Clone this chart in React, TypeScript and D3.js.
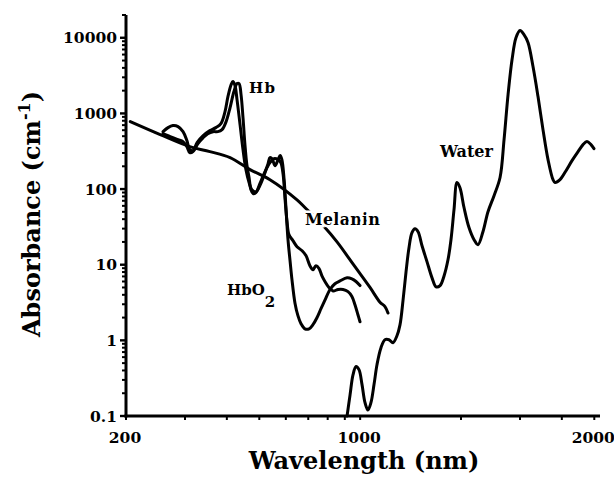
import React from "react";
import * as d3 from "d3";

type Pt = [number, number];

// wavelength (nm), absorbance (cm^-1)
const melanin: Pt[] = [
  [206, 779], [253, 525], [310, 364], [356, 313], [409, 260], [469, 181], [538, 133],
  [648, 72], [684, 57], [785, 31], [853, 20], [965, 9.4], [1070, 5.0], [1146, 3.2],
  [1186, 2.8], [1211, 2.3],
];

const hbo2: Pt[] = [
  [258, 574], [267, 649], [276, 690], [286, 670], [296, 574], [304, 437], [310, 332],
  [317, 322], [326, 411], [340, 508], [356, 592], [371, 649], [384, 733], [395, 1057],
  [403, 1668], [412, 2404], [417, 2634], [423, 2333], [429, 1523], [438, 711], [447, 332],
  [456, 181], [466, 122], [475, 98], [489, 92], [502, 111], [516, 150], [531, 217],
  [538, 260], [546, 252], [557, 204], [569, 245], [577, 277], [584, 245], [593, 133],
  [601, 53], [609, 21.4], [618, 11.0], [626, 6.3], [639, 3.1], [652, 2.12], [666, 1.66],
  [684, 1.42], [704, 1.42], [723, 1.61], [743, 1.99], [764, 2.62], [785, 3.4], [813, 4.7],
  [841, 5.6], [871, 6.1], [914, 6.7], [945, 6.5], [972, 6.0], [999, 5.3],
];

const hb: Pt[] = [
  [258, 541], [267, 508], [276, 478], [286, 450], [296, 424], [304, 364], [310, 303],
  [317, 313], [328, 399], [340, 478], [351, 541], [364, 574], [376, 574], [387, 611],
  [398, 779], [409, 1194], [420, 1946], [429, 2478], [435, 2478], [441, 1774], [447, 879],
  [453, 387], [459, 210], [466, 142], [472, 98], [479, 87], [489, 90], [502, 118],
  [520, 170], [538, 223], [553, 252], [569, 245], [580, 223], [589, 155], [597, 72],
  [605, 37], [613, 25], [630, 20.8], [648, 17.3], [671, 15.3], [689, 13.2], [708, 9.7],
  [723, 8.6], [738, 9.7], [754, 8.9], [769, 7.1], [785, 6.0], [807, 5.0], [830, 4.5],
  [859, 4.7], [889, 4.7], [920, 4.4], [945, 3.8], [965, 2.96], [985, 2.18], [999, 1.76],
];

const water: Pt[] = [
  [914, 0.1], [933, 0.19], [952, 0.35], [972, 0.45], [992, 0.41], [1013, 0.26],
  [1034, 0.15], [1055, 0.12], [1077, 0.15], [1100, 0.26], [1123, 0.48], [1154, 0.8],
  [1186, 1.02], [1219, 1.02], [1253, 0.93], [1288, 1.15], [1315, 1.6], [1343, 3.4],
  [1371, 8.1], [1399, 16.8], [1428, 26.5], [1458, 29.9], [1489, 27.3], [1530, 17.8],
  [1583, 11.0], [1639, 6.7], [1685, 5.1], [1732, 5.3], [1780, 7.1], [1829, 11.6],
  [1867, 21.4], [1906, 53], [1946, 122], [1986, 104], [2042, 57], [2113, 31],
  [2188, 21.4], [2248, 18.4], [2326, 27.3], [2408, 50.2], [2510, 81.8], [2616, 142],
  [2689, 450], [2764, 1774], [2841, 5150], [2920, 10060], [3001, 12450], [3084, 11020],
  [3170, 8650], [3281, 4160], [3396, 1668], [3514, 611], [3638, 245], [3765, 133],
  [3817, 122], [3950, 133], [4117, 175], [4290, 238], [4472, 313], [4627, 387],
  [4754, 424], [4887, 387], [4989, 342],
];

const xTickValues = [200, 300, 400, 500, 600, 700, 800, 900, 1000, 2000, 3000, 4000, 5000];
const xTickLabelValues = [200, 1000, 5000];
const xTickLabels = ["200", "1000", "2000"];
const yTickLabelValues = [0.1, 1, 10, 100, 1000, 10000];
const yTickLabels = ["0.1", "1", "10", "100", "1000", "10000"];

const FONT = "'DejaVu Serif', serif";

export default function App() {
  const x = d3.scaleLog().domain([200, 5200]).range([126, 600]);
  const y = d3.scaleLog().domain([0.1, 20000]).range([416, 15]);

  const line = d3
    .line<Pt>()
    .x((d) => x(d[0]))
    .y((d) => y(d[1]))
    .curve(d3.curveCatmullRom.alpha(0.5));

  const yMinor: number[] = [];
  for (let e = -1; e <= 4; e++) {
    for (let k = 2; k <= 9; k++) {
      const v = k * Math.pow(10, e);
      if (v <= 20000) yMinor.push(v);
    }
  }

  const curveStyle = {
    fill: "none",
    stroke: "#000",
    strokeWidth: 3,
    strokeLinejoin: "round" as const,
    strokeLinecap: "round" as const,
  };

  const labelStyle = {
    fontFamily: FONT,
    fontWeight: 700,
    fill: "#000",
  };

  return (
    <svg
      width={614}
      height={477}
      style={{ position: "absolute", left: 0, top: 0, background: "#fff" }}
    >
      {/* curves */}
      <path d={line(melanin) || ""} style={curveStyle} />
      <path d={line(hbo2) || ""} style={curveStyle} />
      <path d={line(hb) || ""} style={curveStyle} />
      <path d={line(water) || ""} style={curveStyle} />

      {/* axes */}
      <line x1={x(200)} x2={x(200)} y1={y(20000)} y2={y(0.1) + 1.5} stroke="#000" strokeWidth={3} />
      <line x1={x(200) - 1.5} x2={x(5200)} y1={y(0.1)} y2={y(0.1)} stroke="#000" strokeWidth={3} />

      {yMinor.map((v, i) => (
        <line key={"ym" + i} x1={x(200) - 4} x2={x(200)} y1={y(v)} y2={y(v)} stroke="#000" strokeWidth={2} />
      ))}
      {yTickLabelValues.map((v, i) => (
        <line key={"yM" + i} x1={x(200) - 6} x2={x(200)} y1={y(v)} y2={y(v)} stroke="#000" strokeWidth={2.4} />
      ))}
      {xTickValues.map((v, i) => (
        <line key={"xt" + i} x1={x(v)} x2={x(v)} y1={y(0.1)} y2={y(0.1) + 4} stroke="#000" strokeWidth={2} />
      ))}

      {yTickLabelValues.map((v, i) => (
        <text
          key={"yl" + i}
          x={117}
          y={y(v)}
          dy="0.36em"
          textAnchor="end"
          fontSize={15.5}
          style={labelStyle}
        >
          {yTickLabels[i]}
        </text>
      ))}
      {xTickLabelValues.map((v, i) => (
        <text
          key={"xl" + i}
          x={x(v) - 1}
          y={443}
          textAnchor="middle"
          fontSize={15.5}
          style={labelStyle}
        >
          {xTickLabels[i]}
        </text>
      ))}

      {/* axis titles */}
      <text
        x={364}
        y={469}
        textAnchor="middle"
        fontSize={24}
        style={labelStyle}
      >
        Wavelength (nm)
      </text>
      <text
        transform="translate(40,337) rotate(-90)"
        x={0}
        y={0}
        fontSize={24}
        style={labelStyle}
      >
        Absorbance (cm
        <tspan fontSize={16} dy={-10}>-1</tspan>
        <tspan dy={10}>)</tspan>
      </text>

      {/* curve labels */}
      <text x={249} y={93} fontSize={15} textLength={26} style={labelStyle}>Hb</text>
      <text
        x={305}
        y={225}
        fontSize={16}
        textLength={75}
        style={{ ...labelStyle, stroke: "#fff", strokeWidth: 5, paintOrder: "stroke" }}
      >
        Melanin
      </text>
      <text x={440} y={157} fontSize={16} textLength={53} style={labelStyle}>Water</text>
      <text x={227} y={295} fontSize={15} style={labelStyle}>
        HbO
        <tspan dy={12} fontSize={15}>2</tspan>
      </text>
    </svg>
  );
}
